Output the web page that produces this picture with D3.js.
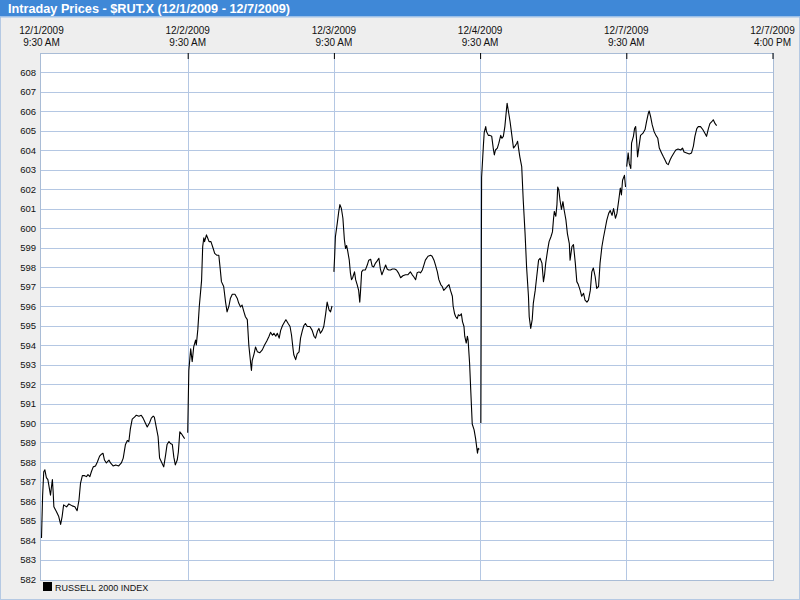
<!DOCTYPE html>
<html>
<head>
<meta charset="utf-8">
<script src="https://cdn.jsdelivr.net/npm/d3@7"></script>
<style>
  html, body { margin: 0; padding: 0; background: #eeeeee; }
  svg { display: block; }
  text { font-family: "Liberation Sans", Arial, sans-serif; }
</style>
</head>
<body>
<svg id="chart" width="800" height="600"></svg>
<script>
// ---------------- DATA ----------------
const chartTitle = "Intraday Prices - $RUT.X (12/1/2009 - 12/7/2009)";
const seriesName = "RUSSELL 2000 INDEX";
const sessionMinutes = 390; // 9:30 AM - 4:00 PM
const dayDates = ["12/1/2009", "12/2/2009", "12/3/2009", "12/4/2009", "12/7/2009"];
const tickDates = ["12/1/2009", "12/2/2009", "12/3/2009", "12/4/2009", "12/7/2009", "12/7/2009"];
const tickTimes = ["9:30 AM", "9:30 AM", "9:30 AM", "9:30 AM", "9:30 AM", "4:00 PM"];
const yTicks = [582,583,584,585,586,587,588,589,590,591,592,593,594,595,596,597,598,599,600,601,602,603,604,605,606,607,608];

// minutes after 9:30 AM and price, one pair of arrays per trading day
const day1Minutes = [0,3,6,9,13,17,24,29,31,33,40,46,51,55,59,67,73,82,89,95,100,104,109,115,120,124,129,133,138,144,149,155,160,164,168,173,180,184,191,198,206,213,218,224,229,233,237,242,248,253,260,266,271,277,282,288,293,298,301,307,311,315,320,326,331,335,340,344,349,353,357,362,365,369,375,380,382];
const day1Prices  = [584.1,586.3,587.5,587.6,587.2,587.1,586.3,587.1,586.5,585.7,585.45,585.2,584.8,585.2,585.8,585.7,585.85,585.75,585.7,585.5,586.05,586.9,587.3,587.3,587.25,587.35,587.25,587.5,587.75,587.8,588.0,588.3,588.4,588.45,588.1,587.95,588.1,587.95,587.8,587.85,587.8,587.95,588.2,588.9,589.1,589.05,589.7,590.2,590.3,590.4,590.35,590.4,590.25,590.0,589.8,590.0,590.25,590.35,590.3,589.7,589.3,588.2,588.0,587.75,588.35,588.9,589.05,588.95,588.9,588.25,587.85,588.1,588.5,589.55,589.4,589.25,589.2];

const day2Minutes = [0,3,8,12,16,21,23,27,31,37,40,43,45,50,53,57,62,68,72,78,83,87,90,96,101,105,110,114,119,126,132,136,141,145,150,154,159,163,168,170,172,177,181,186,192,199,205,211,217,221,226,230,235,239,244,248,253,259,262,268,273,277,281,283,288,292,297,301,306,310,314,319,326,332,337,341,346,350,354,359,363,368,372,377,381,385];
const day2Prices  = [589.5,592.7,593.8,593.15,593.9,594.25,594.0,594.8,596.0,597.3,599.05,599.5,599.3,599.65,599.5,599.3,599.3,598.95,598.7,598.6,598.6,597.85,597.25,597.0,596.2,595.7,596.0,596.4,596.6,596.6,596.4,596.15,595.95,596.05,595.7,595.45,595.3,594.0,593.05,592.7,593.2,593.55,593.9,593.65,593.6,593.75,594.0,594.2,594.45,594.65,594.5,594.6,594.45,594.6,594.35,594.75,595.0,595.2,595.3,595.1,594.95,594.5,593.8,593.5,593.25,593.55,593.65,594.35,594.75,595.0,595.1,594.95,594.95,594.75,594.45,594.35,594.7,594.85,594.6,594.75,594.95,595.6,596.2,595.8,595.7,596.0];

const day3Minutes = [0,2,4,9,13,16,20,24,28,31,34,37,41,44,47,50,55,58,62,66,69,71,74,78,84,89,93,98,102,106,111,115,120,124,128,133,138,142,146,151,156,162,167,172,178,184,191,197,204,209,213,218,222,227,231,236,240,244,251,258,262,267,271,276,280,285,289,293,298,302,307,311,316,318,322,325,329,332,336,340,343,347,349,353,356,358,362,365,369,374,378,383,385,388];
const day3Prices  = [597.75,598.55,599.55,600.25,600.85,601.2,601.0,600.5,599.4,598.95,599.1,598.8,598.35,597.7,597.35,597.45,597.75,597.35,597.1,596.8,596.2,596.75,597.75,597.85,597.85,598.1,598.35,598.4,598.05,598.0,598.2,598.3,598.45,597.9,597.6,597.85,598.1,597.9,597.85,597.85,597.9,597.9,597.85,597.7,597.45,597.55,597.6,597.6,597.75,597.6,597.5,597.35,597.7,597.75,597.7,597.85,598.1,598.35,598.55,598.6,598.55,598.35,598.1,597.75,597.35,597.1,597.0,596.8,596.9,597.0,597.1,596.8,596.5,596.0,595.6,595.45,595.35,595.55,595.5,595.6,595.2,594.95,594.45,594.1,594.45,594.25,593.05,591.7,589.95,589.65,589.2,588.45,588.7,588.65];

const day4Minutes = [2,4,9,11,15,17,22,26,31,35,38,41,46,50,55,58,62,66,69,72,75,80,84,89,93,98,100,104,106,111,115,120,124,129,131,135,139,142,147,151,156,160,165,169,172,175,180,184,189,193,196,198,202,205,207,210,213,217,221,224,229,233,238,240,245,249,254,258,262,267,271,276,280,285,289,294,298,302,307,311,316,320,325,329,334,338,343,347,352,356,361,365,370,374,377,380,385,388];
const day4Prices  = [590.0,602.6,604.3,604.9,605.2,604.95,604.75,604.75,604.7,604.1,603.75,604.0,604.1,604.35,604.75,604.6,604.7,605.2,605.8,606.4,606.05,605.45,604.85,604.1,604.2,604.35,604.45,603.9,603.65,603.15,601.45,599.7,598.0,596.5,595.45,594.85,595.3,596.15,596.8,597.5,598.35,598.45,598.2,597.25,597.6,598.2,598.85,599.3,599.55,599.8,600.5,600.85,600.6,601.2,602.1,601.95,601.45,600.95,601.35,600.95,600.4,599.7,599.2,598.35,599.05,599.15,598.2,597.25,597.1,596.8,596.5,596.65,596.3,596.2,596.3,596.8,597.75,597.95,597.5,596.9,597.0,598.2,599.05,599.5,600.0,600.4,600.75,600.9,600.65,601.0,600.5,600.75,601.45,602.05,601.7,602.45,602.7,602.1];

const day5Minutes = [1,5,8,12,14,19,22,25,28,30,34,38,44,50,54,59,61,65,69,74,79,84,88,94,99,103,108,112,117,121,127,132,138,145,150,154,161,168,174,179,183,188,192,198,204,210,214,219,223,228,232,237,241];
const day5Prices  = [603.15,603.85,603.3,603.05,604.35,604.7,605.1,605.2,604.35,603.65,604.2,604.75,604.85,605.05,605.45,605.9,606.0,605.7,605.3,604.95,604.75,604.6,604.1,603.85,603.65,603.5,603.3,603.25,603.5,603.65,603.85,604.0,604.05,604.0,604.1,603.9,603.85,603.8,603.85,604.2,604.7,605.1,605.2,605.2,605.05,604.85,604.7,605.1,605.35,605.45,605.55,605.35,605.25];

const days = [
  {date: dayDates[0], minutes: day1Minutes, prices: day1Prices},
  {date: dayDates[1], minutes: day2Minutes, prices: day2Prices},
  {date: dayDates[2], minutes: day3Minutes, prices: day3Prices},
  {date: dayDates[3], minutes: day4Minutes, prices: day4Prices},
  {date: dayDates[4], minutes: day5Minutes, prices: day5Prices}
];

// ---------------- LAYOUT ----------------
const W = 800, H = 600;
const plot = {left: 40, right: 773, top: 53, bottom: 580};
const svg = d3.select("#chart");

// frame
svg.append("rect").attr("x", 0.5).attr("y", 0.5).attr("width", W - 1).attr("height", H - 1)
  .attr("fill", "#eeeeee").attr("stroke", "#b5c9e3");
svg.append("rect").attr("x", 0).attr("y", 0).attr("width", W).attr("height", 16)
  .attr("fill", "#3f88d7");
svg.append("rect").attr("x", 0).attr("y", 16).attr("width", W).attr("height", 1.5)
  .attr("fill", "#9cc0e8");
svg.append("text").attr("x", 8).attr("y", 12.5)
  .attr("fill", "#ffffff").attr("font-weight", "bold").attr("font-size", "12.7px")
  .text(chartTitle);

// scales
const x = d3.scaleLinear().domain([0, sessionMinutes * dayDates.length]).range([41.5, 772.5]);
const y = d3.scaleLinear().domain([582, 609]).range([579, 52.5]);

// plot background
svg.append("rect").attr("x", plot.left + 0.5).attr("y", plot.top + 0.5)
  .attr("width", plot.right - plot.left).attr("height", plot.bottom - plot.top)
  .attr("fill", "#ffffff").attr("stroke", "#a9bcd6");

const tickMinutes = tickDates.map((d, i) => i * sessionMinutes);

// horizontal grid
svg.append("g").selectAll("line").data(yTicks.slice(1)).join("line")
  .attr("x1", plot.left + 1).attr("x2", plot.right)
  .attr("y1", d => Math.round(y(d)) + 0.5).attr("y2", d => Math.round(y(d)) + 0.5)
  .attr("stroke", "#b4c7e3").attr("stroke-width", 1);

// vertical day separators
svg.append("g").selectAll("line").data(tickMinutes.slice(1, -1)).join("line")
  .attr("x1", d => Math.round(x(d)) + 0.5).attr("x2", d => Math.round(x(d)) + 0.5)
  .attr("y1", plot.top + 1).attr("y2", plot.bottom)
  .attr("stroke", "#b4c7e3").attr("stroke-width", 1);

// y axis labels
const yAxis = d3.axisLeft(y).tickValues(yTicks).tickSize(0).tickPadding(4).tickFormat(d3.format("d"));
const gy = svg.append("g").attr("transform", `translate(${plot.left},0)`).call(yAxis);
gy.select(".domain").remove();
gy.selectAll("text").attr("font-size", "9.5px").attr("fill", "#111").attr("font-family", "Liberation Sans, Arial, sans-serif");

// x axis (top) ticks pointing into the plot
const xAxis = d3.axisTop(x).tickValues(tickMinutes).tickSizeInner(-6).tickSizeOuter(0).tickFormat("");
const gx = svg.append("g").attr("transform", `translate(0,${plot.top})`).call(xAxis);
gx.select(".domain").remove();
gx.selectAll(".tick line").attr("stroke", "#000").filter((d, i) => i === 0).remove();

// x labels (two lines, centred on ticks)
const lab = svg.append("g").selectAll("text").data(tickMinutes).join("text")
  .attr("font-size", "10px").attr("fill", "#111")
  .attr("text-anchor", "middle");
lab.append("tspan").attr("y", 34).attr("x", d => x(d)).text((d, i) => tickDates[i]);
lab.append("tspan").attr("y", 46).attr("x", d => x(d)).text((d, i) => tickTimes[i]);

// price line, one path per day
const line = d3.line().x(d => x(d[0])).y(d => y(d[1]));
svg.append("g").selectAll("path").data(days).join("path")
  .attr("d", (d, k) => line(d.minutes.map((m, j) => [k * sessionMinutes + m, d.prices[j]])))
  .attr("fill", "none").attr("stroke", "#000").attr("stroke-width", 1.1)
  .attr("stroke-linejoin", "round");

// legend
svg.append("rect").attr("x", 43).attr("y", 582).attr("width", 9).attr("height", 9).attr("fill", "#000");
svg.append("text").attr("x", 55).attr("y", 590.5).attr("font-size", "9px").attr("fill", "#111")
  .text(seriesName);
</script>
</body>
</html>
